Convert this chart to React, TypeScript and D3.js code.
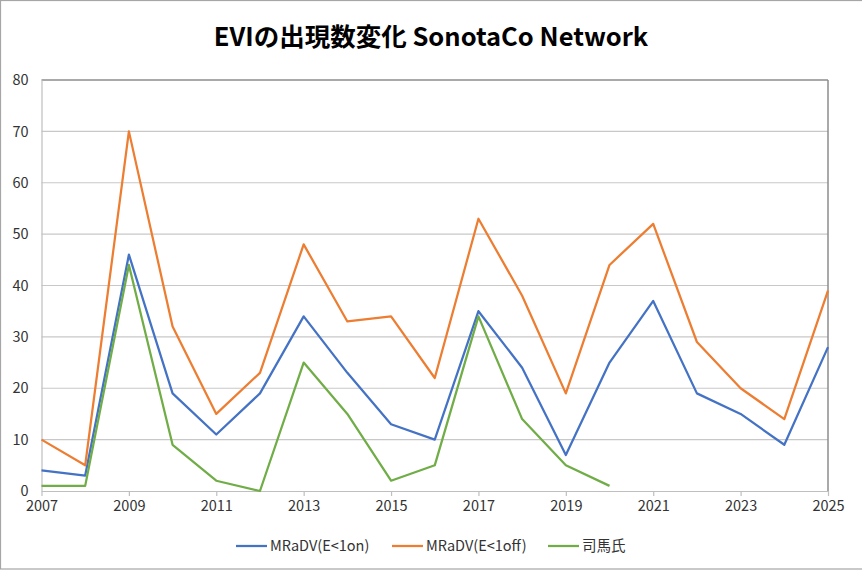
import { useEffect, useRef } from "react";
import * as d3 from "d3";

const years = [2007, 2008, 2009, 2010, 2011, 2012, 2013, 2014, 2015, 2016, 2017, 2018, 2019, 2020, 2021, 2022, 2023, 2024, 2025];
const mradvOn = [4, 3, 46, 19, 11, 19, 34, 23, 13, 10, 35, 24, 7, 25, 37, 19, 15, 9, 28];
const mradvOff = [10, 5, 70, 32, 15, 23, 48, 33, 34, 22, 53, 38, 19, 44, 52, 29, 20, 14, 39];
const shibaYears = [2007, 2008, 2009, 2010, 2011, 2012, 2013, 2014, 2015, 2016, 2017, 2018, 2019, 2020];
const shiba = [1, 1, 44, 9, 2, 0, 25, 15, 2, 5, 34, 14, 5, 1];
const xTicks = [2007, 2009, 2011, 2013, 2015, 2017, 2019, 2021, 2023, 2025];
const yTicks = [0, 10, 20, 30, 40, 50, 60, 70, 80];
const seriesNames = ["MRaDV(E<1on)", "MRaDV(E<1off)", "司馬氏"];
const seriesColors = ["#4472C4", "#ED7D31", "#70AD47"];

const W = 862;
const H = 571;
const FONT = "'Noto Sans CJK JP', 'Noto Sans', sans-serif";

export default function App() {
  const svgRef = useRef<SVGSVGElement>(null);

  useEffect(() => {
    if (!svgRef.current) return;
    const svg = d3.select(svgRef.current);
    svg.selectAll("*").remove();

    const margin = { top: 80, right: 34, bottom: 80, left: 41.5 };
    const width = W - margin.left - margin.right;
    const height = H - margin.top - margin.bottom;

    // outer chart frame
    svg
      .append("rect")
      .attr("x", 0.5)
      .attr("y", 0.5)
      .attr("width", W + 10)
      .attr("height", 568.5)
      .attr("fill", "#fff")
      .attr("stroke", "#a6a6a6")
      .attr("stroke-width", 1.2);

    svg
      .append("text")
      .attr("x", 431)
      .attr("y", 46)
      .attr("text-anchor", "middle")
      .style("font-family", FONT)
      .style("font-size", "25.5px")
      .style("font-weight", "bold")
      .style("fill", "#000")
      .text("EVIの出現数変化 SonotaCo Network");

    const g = svg.append("g").attr("transform", `translate(${margin.left},${margin.top})`);

    const x = d3.scaleLinear().domain([2007, 2025]).range([0, width]);
    const y = d3.scaleLinear().domain([0, 80]).range([height, 0]);

    // gridlines
    g.append("g")
      .selectAll("line")
      .data(yTicks.filter((t) => t > 0 && t < 80))
      .enter()
      .append("line")
      .attr("x1", 0)
      .attr("x2", width)
      .attr("y1", (d) => y(d))
      .attr("y2", (d) => y(d))
      .attr("stroke", "#c8c8c8")
      .attr("stroke-width", 1.2);

    // plot area border (top + right darker)
    g.append("line")
      .attr("x1", 0)
      .attr("x2", width)
      .attr("y1", 0)
      .attr("y2", 0)
      .attr("stroke", "#8c8c8c")
      .attr("stroke-width", 1.5);
    g.append("line")
      .attr("x1", width)
      .attr("x2", width)
      .attr("y1", 0)
      .attr("y2", height)
      .attr("stroke", "#8c8c8c")
      .attr("stroke-width", 1.5);

    // y axis
    const yAxis = g
      .append("g")
      .call(d3.axisLeft(y).tickValues(yTicks).tickSize(0).tickPadding(13));
    yAxis.select(".domain").attr("stroke", "#bfbfbf").attr("stroke-width", 1.2);
    yAxis
      .selectAll("text")
      .style("font-family", FONT)
      .style("font-size", "14.5px")
      .style("fill", "#333");

    // x axis
    const xAxis = g
      .append("g")
      .attr("transform", `translate(0,${height})`)
      .call(
        d3
          .axisBottom(x)
          .tickValues(xTicks)
          .tickSize(5)
          .tickSizeOuter(0)
          .tickPadding(5)
          .tickFormat((d) => String(d))
      );
    xAxis.select(".domain").attr("stroke", "#bfbfbf").attr("stroke-width", 1.2);
    xAxis.selectAll("line").attr("stroke", "#bfbfbf").attr("stroke-width", 1.2);
    xAxis
      .selectAll("text")
      .style("font-family", FONT)
      .style("font-size", "14.5px")
      .style("fill", "#333");

    const line = d3
      .line<[number, number]>()
      .x((d) => x(d[0]))
      .y((d) => y(d[1]));

    const series: [number, number][][] = [
      years.map((yr, i) => [yr, mradvOn[i]]),
      years.map((yr, i) => [yr, mradvOff[i]]),
      shibaYears.map((yr, i) => [yr, shiba[i]]),
    ];

    // series order as in the legend: blue, orange, green on top
    series.forEach((s, i) => {
      g.append("path")
        .datum(s)
        .attr("fill", "none")
        .attr("stroke", seriesColors[i])
        .attr("stroke-width", 2.25)
        .attr("stroke-linejoin", "round")
        .attr("d", line);
    });

    // legend
    const legendX = [236, 392, 548];
    const legend = svg.append("g").attr("transform", "translate(0,546)");
    seriesNames.forEach((name, i) => {
      legend
        .append("line")
        .attr("x1", legendX[i])
        .attr("x2", legendX[i] + 31)
        .attr("y1", 0)
        .attr("y2", 0)
        .attr("stroke", seriesColors[i])
        .attr("stroke-width", 2.25);
      legend
        .append("text")
        .attr("x", legendX[i] + 34)
        .attr("y", 5)
        .style("font-family", FONT)
        .style("font-size", "14.5px")
        .style("fill", "#333")
        .text(name);
    });
  }, []);

  return (
    <div style={{ position: "fixed", left: 0, top: 0 }}>
      <svg ref={svgRef} width={W} height={H} style={{ display: "block" }} />
    </div>
  );
}
